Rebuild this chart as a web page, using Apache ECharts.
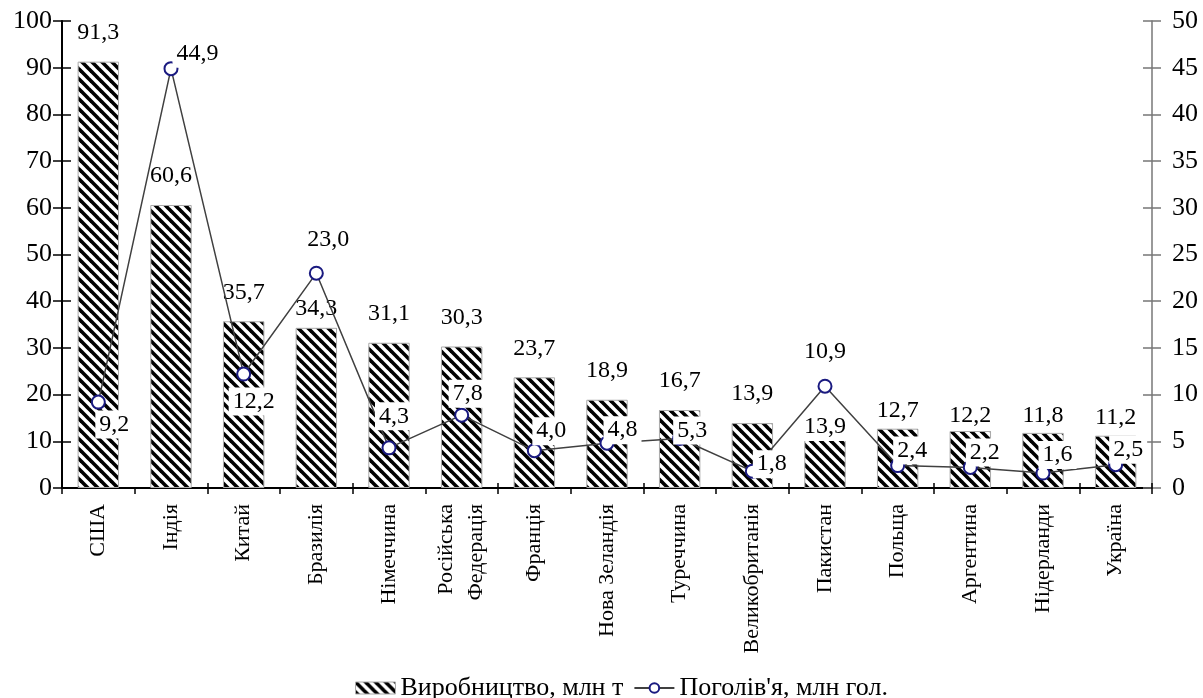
<!DOCTYPE html>
<html>
<head>
<meta charset="utf-8">
<script src="https://cdn.jsdelivr.net/npm/echarts@6/dist/echarts.min.js"></script>
<style>html,body{margin:0;padding:0;background:#fff}#c{width:1203px;height:698px}</style>
</head>
<body>
<div id="c"></div>
<script>
const categories = ['США','Індія','Китай','Бразилія','Німеччина','Російська\nФедерація','Франція','Нова Зеландія','Туреччина','Великобританія','Пакистан','Польща','Аргентина','Нідерланди','Україна'];
const production = [91.3, 60.6, 35.7, 34.3, 31.1, 30.3, 23.7, 18.9, 16.7, 13.9, 13.9, 12.7, 12.2, 11.8, 11.2];
const livestock = [9.2, 44.9, 12.2, 23.0, 4.3, 7.8, 4.0, 4.8, 5.3, 1.8, 10.9, 2.4, 2.2, 1.6, 2.5];
const leftTicks = [0, 100, 10];
const rightTicks = [0, 50, 5];
const seriesNames = ['Виробництво, млн т', "Поголів'я, млн гол."];

// label placement tweaks (style only)
const barLabelOffsets = [[0,0],[0,0],[0,0],[0,10],[0,0],[0,0],[0,0],[0,0],[0,0],[0,0],[0,33],[0,11],[0,14],[0,12],[0,11]];
const lineLabelPos = [
  ['bottom',[16,-4]],['right',[-11,-15]],['bottom',[10,1]],['top',[12,-7]],['top',[5,-5]],
  ['top',[6,5]],['top',[17,7]],['right',[-16,-13]],['right',[-19,-8]],['right',[-12,-7]],
  ['top',[0,-8]],['right',[-17,-15]],['right',[-17,-15]],['right',[-17,-18]],['right',[-19,-15]]
];

const FONT = 'Liberation Serif';
const fmt = v => v.toFixed(1).replace('.', ',');

function hatch() {
  const s = 10;
  const c = document.createElement('canvas');
  c.width = s; c.height = s;
  const g = c.getContext('2d');
  g.fillStyle = '#fff'; g.fillRect(0,0,s,s);
  g.strokeStyle = '#000'; g.lineWidth = 3.6;
  g.lineCap = 'square';
  for (let k = -1; k <= 1; k++) {
    g.beginPath();
    g.moveTo(k*s, 0); g.lineTo(k*s + s, s);
    g.stroke();
  }
  return c;
}
const pattern = { image: hatch(), repeat: 'repeat' };

const chart = echarts.init(document.getElementById('c'), null, {renderer:'canvas'});
const labelBase = { fontFamily: FONT, fontSize: 24, color: '#000', backgroundColor: '#fff', padding: [2,4] };
const tickFont = { fontFamily: FONT, fontSize: 26, color: '#000' };

chart.setOption({
  animation: false,
  backgroundColor: '#fff',
  textStyle: { fontFamily: FONT },
  grid: { left: 62, right: 51, top: 21, bottom: 210 },
  legend: {
    top: 670, left: 350,
    itemGap: 10,
    textStyle: { fontFamily: FONT, fontSize: 26, color: '#000' },
    data: [
      { name: seriesNames[0], icon: 'rect', itemStyle: { color: pattern, borderColor: '#aaa', borderWidth: 1 } },
      { name: seriesNames[1] }
    ],
    itemWidth: 40, itemHeight: 12
  },
  xAxis: [
    {
      type: 'category',
      data: categories,
      position: 'bottom',
      axisLine: { lineStyle: { color: '#000', width: 2 } },
      axisTick: { show: true, length: 6, lineStyle: { color: '#000', width: 1.5 } },
      axisLabel: { rotate: 90, interval: 0, margin: 16, fontFamily: FONT, fontSize: 22, color: '#000', lineHeight: 30 }
    },
    {
      type: 'category',
      data: categories,
      position: 'bottom',
      offset: 0,
      axisLine: { show: false },
      axisTick: { show: true, inside: true, length: 5, lineStyle: { color: '#000', width: 1.5 } },
      axisLabel: { show: false }
    }
  ],
  yAxis: [
    {
      type: 'value', min: leftTicks[0], max: leftTicks[1], interval: leftTicks[2],
      position: 'left',
      splitLine: { show: false },
      axisLine: { show: true, lineStyle: { color: '#000', width: 2 } },
      axisTick: { show: true, length: 9, lineStyle: { color: '#000', width: 1.5 } },
      axisLabel: Object.assign({ margin: 10 }, tickFont)
    },
    {
      type: 'value', min: rightTicks[0], max: rightTicks[1], interval: rightTicks[2],
      position: 'right',
      splitLine: { show: false },
      axisLine: { show: true, lineStyle: { color: '#777', width: 1.5 } },
      axisTick: { show: true, length: 9, lineStyle: { color: '#777', width: 1.5 } },
      axisLabel: Object.assign({ margin: 20 }, tickFont)
    },
    {
      type: 'value', min: leftTicks[0], max: leftTicks[1], interval: leftTicks[2],
      position: 'left', offset: 0,
      splitLine: { show: false },
      axisLine: { show: false },
      axisTick: { show: true, inside: true, length: 9, lineStyle: { color: '#000', width: 1.5 } },
      axisLabel: { show: false }
    },
    {
      type: 'value', min: rightTicks[0], max: rightTicks[1], interval: rightTicks[2],
      position: 'right', offset: 0,
      splitLine: { show: false },
      axisLine: { show: false },
      axisTick: { show: true, inside: true, length: 9, lineStyle: { color: '#777', width: 1.5 } },
      axisLabel: { show: false }
    }
  ],
  series: [
    {
      name: seriesNames[0],
      type: 'bar',
      xAxisIndex: 0,
      yAxisIndex: 0,
      barWidth: '57%',
      itemStyle: { color: pattern, borderColor: '#aaa', borderWidth: 1 },
      label: Object.assign({ show: true, position: 'top', distance: 15, formatter: p => fmt(p.value) }, labelBase),
      data: production.map((v, i) => ({ value: v, label: { offset: barLabelOffsets[i] } })),
      z: 2
    },
    {
      name: seriesNames[1],
      type: 'line',
      xAxisIndex: 0,
      yAxisIndex: 1,
      symbol: 'circle',
      symbolSize: 13,
      showAllSymbol: true,
      lineStyle: { color: '#404040', width: 1.5 },
      itemStyle: { color: '#fff', borderColor: '#1a1a80', borderWidth: 2 },
      label: Object.assign({ show: true, distance: 5, formatter: p => fmt(p.value) }, labelBase),
      data: livestock.map((v, i) => ({ value: v, label: { position: lineLabelPos[i][0], offset: lineLabelPos[i][1] } })),
      z: 3
    }
  ]
});
</script>
</body>
</html>
